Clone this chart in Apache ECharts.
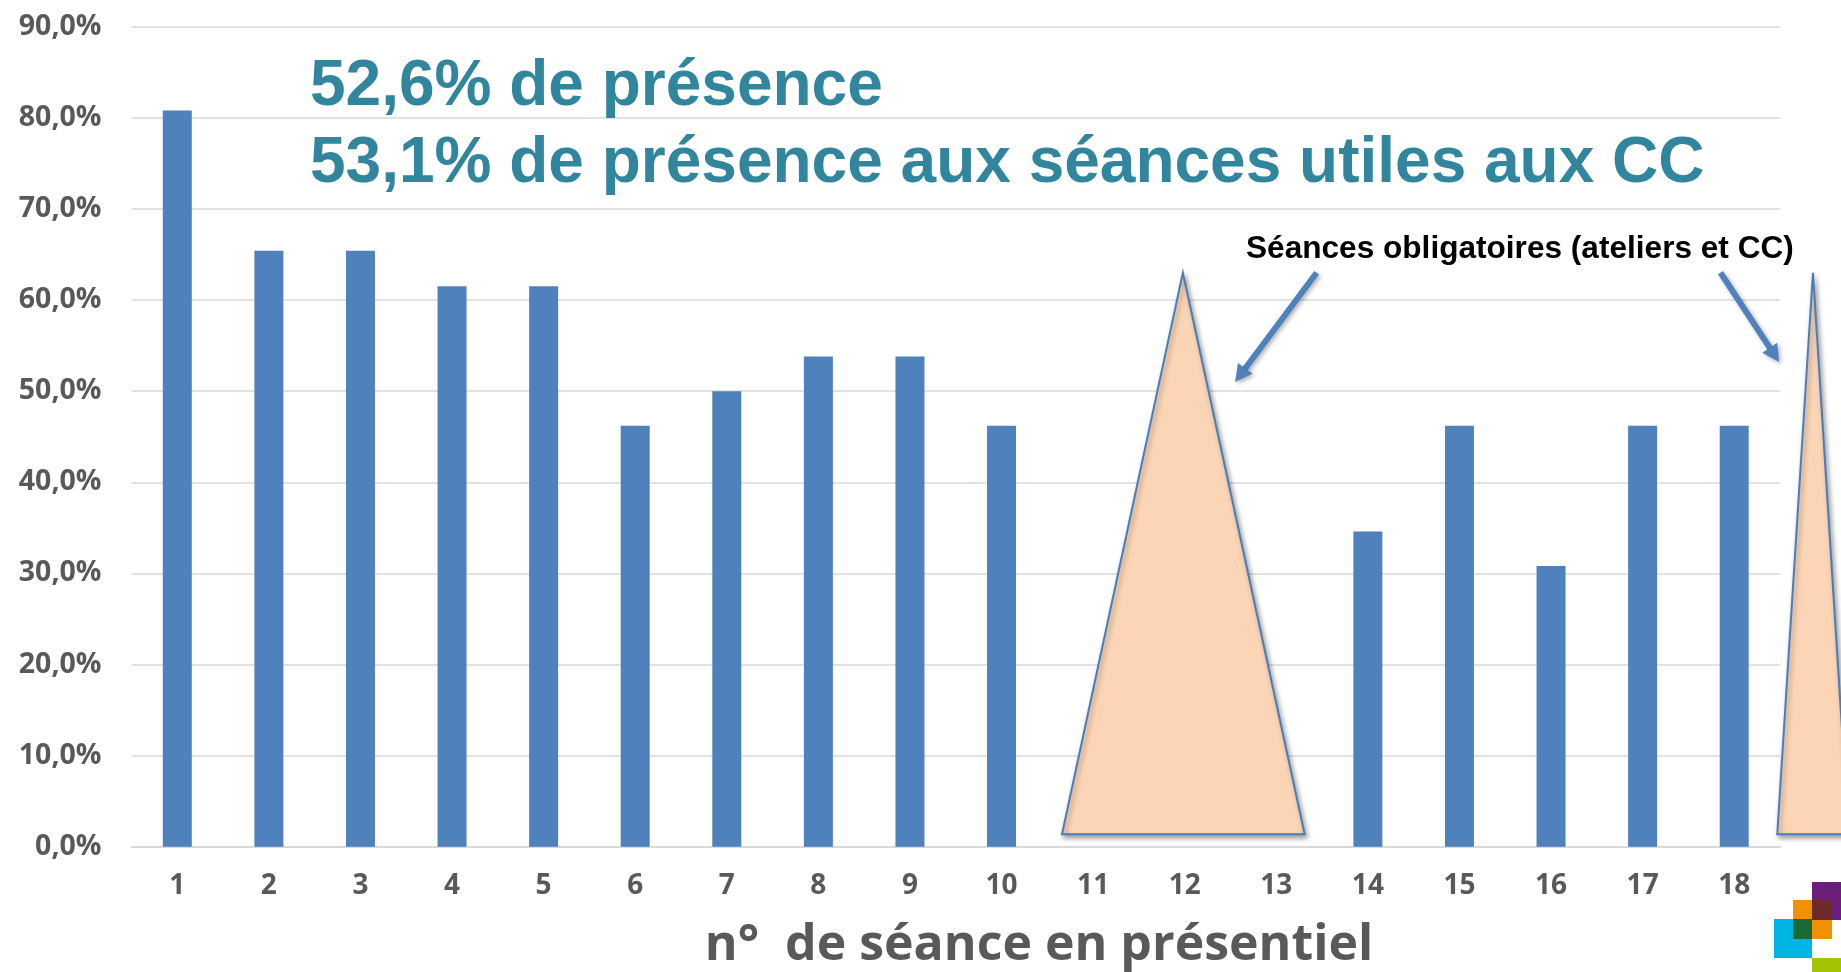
<!DOCTYPE html>
<html>
<head>
<meta charset="utf-8">
<script src="https://cdn.jsdelivr.net/npm/echarts@6/dist/echarts.min.js"></script>
<style>
html,body{margin:0;padding:0;background:#fff;}
#chart{width:1841px;height:972px;}
</style>
</head>
<body>
<div id="chart"></div>
<script>
// ---- data ----
const categories = ['1','2','3','4','5','6','7','8','9','10','11','12','13','14','15','16','17','18'];
const presence = [80.8, 65.4, 65.4, 61.5, 61.5, 46.2, 50.0, 53.8, 53.8, 46.2, null, null, null, 34.6, 46.2, 30.8, 46.2, 46.2];
const yMin = 0, yMax = 90, yInterval = 10;
const titleLines = ['52,6% de présence', '53,1% de présence aux séances utiles aux CC'];
const noteText = 'Séances obligatoires (ateliers et CC)';
const xAxisTitle = 'n°  de séance en présentiel';
// annotation triangles in (session number, %) units: [leftX, rightX, apexX, baseY, apexY]
const triangles = [
  [10.66, 13.31, 11.98, 1.36, 63.0],
  [18.47, 19.25, 18.86, 1.36, 63.0]
];
// annotation arrows: [fromX, fromY, toX, toY]
const arrows = [
  [13.44, 63.0, 12.55, 51.0],
  [17.85, 63.0, 18.49, 53.2]
];

const chart = echarts.init(document.getElementById('chart'));
const labelFont = '"Open Sans", "DejaVu Sans", sans-serif';
const blue = '#4F81BD';

const option = {
  animation: false,
  backgroundColor: '#ffffff',
  title: [
    {
      text: titleLines.join('\n'),
      left: 305, top: 44,
      textStyle: {fontFamily: '"Liberation Sans", Arial, sans-serif', fontWeight: 'bold', fontSize: 64, lineHeight: 77, color: '#31859C'}
    },
    {
      text: noteText,
      left: 1241, top: 228,
      textStyle: {fontFamily: '"Liberation Sans", Arial, sans-serif', fontWeight: 'bold', fontSize: 31.6, lineHeight: 32, color: '#000000'}
    }
  ],
  grid: {left: 131.5, right: 61, top: 26.7, bottom: 125.3, containLabel: false},
  xAxis: [
    {
      type: 'category',
      data: categories,
      boundaryGap: true,
      axisLine: {show: true, lineStyle: {color: '#D9D9D9', width: 2}},
      axisTick: {show: false},
      axisLabel: {margin: 25, fontFamily: labelFont, fontWeight: 'bold', fontSize: 28, color: '#595959', interval: 0}
    },
    {
      type: 'value', min: 0.5, max: 18.5, show: false
    }
  ],
  yAxis: {
    type: 'value',
    min: yMin, max: yMax, interval: yInterval,
    axisLine: {show: false},
    axisTick: {show: false},
    splitLine: {lineStyle: {color: '#D9D9D9', width: 1.5}},
    axisLabel: {
      margin: 30,
      fontFamily: labelFont, fontWeight: 'bold', fontSize: 28.5, color: '#595959',
      formatter: v => v.toFixed(1).replace('.', ',') + '%'
    }
  },
  series: [
    {
      type: 'bar',
      data: presence,
      barWidth: 29,
      itemStyle: {color: blue},
      z: 2
    },
    {
      type: 'custom',
      xAxisIndex: 1,
      clip: false,
      z: 5,
      data: triangles,
      encode: {x: [0, 1, 2], y: [3, 4]},
      renderItem: function (params, api) {
        const l = api.coord([api.value(0), api.value(3)]);
        const r = api.coord([api.value(1), api.value(3)]);
        const a = api.coord([api.value(2), api.value(4)]);
        return {
          type: 'polygon',
          shape: {points: [l, a, r]},
          style: {fill: '#FBD5B5', stroke: '#4A7EBB', lineWidth: 2,
            shadowBlur: 5, shadowOffsetX: 2, shadowOffsetY: 3, shadowColor: 'rgba(0,0,0,0.35)'}
        };
      }
    },
    {
      type: 'custom',
      xAxisIndex: 1,
      clip: false,
      z: 6,
      data: arrows,
      encode: {x: [0, 2], y: [1, 3]},
      renderItem: function (params, api) {
        const p1 = api.coord([api.value(0), api.value(1)]);
        const p2 = api.coord([api.value(2), api.value(3)]);
        const dx = p2[0] - p1[0], dy = p2[1] - p1[1];
        const len = Math.sqrt(dx * dx + dy * dy);
        const ux = dx / len, uy = dy / len;
        const headLen = 17, headHalf = 9;
        const bx = p2[0] - ux * headLen, by = p2[1] - uy * headLen;
        const nx = -uy, ny = ux;
        const shadow = {shadowBlur: 4, shadowOffsetX: 2, shadowOffsetY: 2, shadowColor: 'rgba(0,0,0,0.3)'};
        return {
          type: 'group',
          children: [
            {type: 'line', shape: {x1: p1[0], y1: p1[1], x2: bx + ux * 2, y2: by + uy * 2},
              style: Object.assign({stroke: blue, lineWidth: 6}, shadow)},
            {type: 'polygon', shape: {points: [p2, [bx + nx * headHalf, by + ny * headHalf], [bx - nx * headHalf, by - ny * headHalf]]},
              style: Object.assign({fill: blue}, shadow)}
          ]
        };
      }
    }
  ],
  graphic: [
    {
      type: 'text', x: 1039, y: 946,
      style: {text: xAxisTitle, textAlign: 'center', textVerticalAlign: 'middle',
        font: 'bold 50px "Open Sans", "DejaVu Sans", sans-serif', fill: '#595959'}
    },
    // logo
    {type: 'rect', shape: {x: 1812, y: 882, width: 39, height: 38}, style: {fill: '#6B1E7A'}},
    {type: 'rect', shape: {x: 1793, y: 900, width: 39, height: 39}, style: {fill: '#F29100'}},
    {type: 'rect', shape: {x: 1774, y: 919, width: 38, height: 39}, style: {fill: '#00B4E4'}},
    {type: 'rect', shape: {x: 1812, y: 958, width: 39, height: 20}, style: {fill: '#A6C300'}},
    {type: 'rect', shape: {x: 1812, y: 900, width: 20, height: 20}, style: {fill: '#6E2A2A'}},
    {type: 'rect', shape: {x: 1793, y: 919, width: 19, height: 20}, style: {fill: '#186B37'}}
  ]
};
chart.setOption(option);
</script>
</body>
</html>
